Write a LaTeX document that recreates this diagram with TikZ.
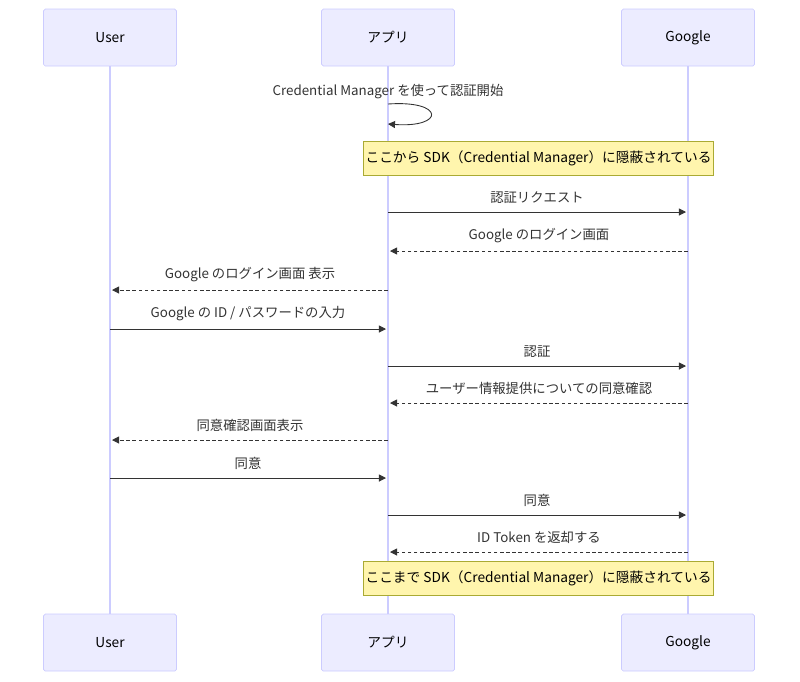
\documentclass[tikz,border=0pt]{standalone}
\usepackage{fontspec}
\setmainfont{Noto Sans CJK JP}
\usetikzlibrary{arrows.meta}
\definecolor{actorfill}{HTML}{ECECFF}
\definecolor{actorline}{HTML}{CCCCFF}
\definecolor{notefill}{HTML}{FFF5AD}
\definecolor{noteline}{HTML}{AAAA33}
\definecolor{msgline}{HTML}{333333}
\begin{document}
\begin{tikzpicture}[x=0.02cm, y=-0.02cm, font=\fontsize{7.6}{9}\selectfont]
% Styles
\tikzstyle{actor} = [rectangle, draw=actorline, fill=actorfill, rounded corners=1pt, minimum width=133*0.02cm, minimum height=57*0.02cm, font=\fontsize{7.8}{9}\selectfont]
\tikzstyle{life} = [draw=actorline, line width=0.6pt]
\tikzstyle{note} = [rectangle, draw=noteline, fill=notefill, minimum width=345*0.02cm, minimum height=34*0.02cm, inner sep=1pt, font=\fontsize{7.8}{9}\selectfont]
\tikzstyle{msg} = [draw=msgline, line width=0.5pt, -{Triangle[length=4pt,width=4pt]}]
\tikzstyle{reply} = [msg, dash pattern=on 2pt off 1.5pt]
\tikzstyle{lbl} = [above=1pt, text=msgline]
\useasboundingbox (0,0) rectangle (800,681);

% Actors
\foreach \n/\x/\t in {user/110/User, app/388/アプリ, google/688/Google} {
  \node (\n top) [actor] at (\x,37.5) {\t};
  \node (\n bot) [actor] at (\x,642.5) {\t};
  \draw [life] (\n top.south) -- (\n bot.north);
}

% Self message
\node (self) [text=msgline] at (388,92) {Credential Manager を使って認証開始};
\coordinate (s1) at (388,104);
\coordinate (s2) at (388,124);
\draw [msg] (s1) .. controls (445,100) and (445,128) .. (s2);

% Notes
\node (note1) [note] at (538.5,158) {ここから SDK（Credential Manager）に隠蔽されている};
\node (note2) [note] at (538.5,578) {ここまで SDK（Credential Manager）に隠蔽されている};

% Messages
\foreach \y/\a/\b/\s/\t in {
  212/388/686/msg/認証リクエスト,
  251/688/390/reply/Google のログイン画面,
  290/388/112/reply/Google のログイン画面 表示,
  329/110/386/msg/{Google の ID / パスワードの入力},
  366/388/686/msg/認証,
  403/688/390/reply/ユーザー情報提供についての同意確認,
  440/388/112/reply/同意確認画面表示,
  478/110/386/msg/同意,
  515/388/686/msg/同意,
  552/688/390/reply/ID Token を返却する} {
  \coordinate (from\y) at (\a,\y);
  \coordinate (to\y) at (\b,\y);
  \draw [\s] (from\y) -- node [lbl] {\t} (to\y);
}
\end{tikzpicture}
\end{document}
